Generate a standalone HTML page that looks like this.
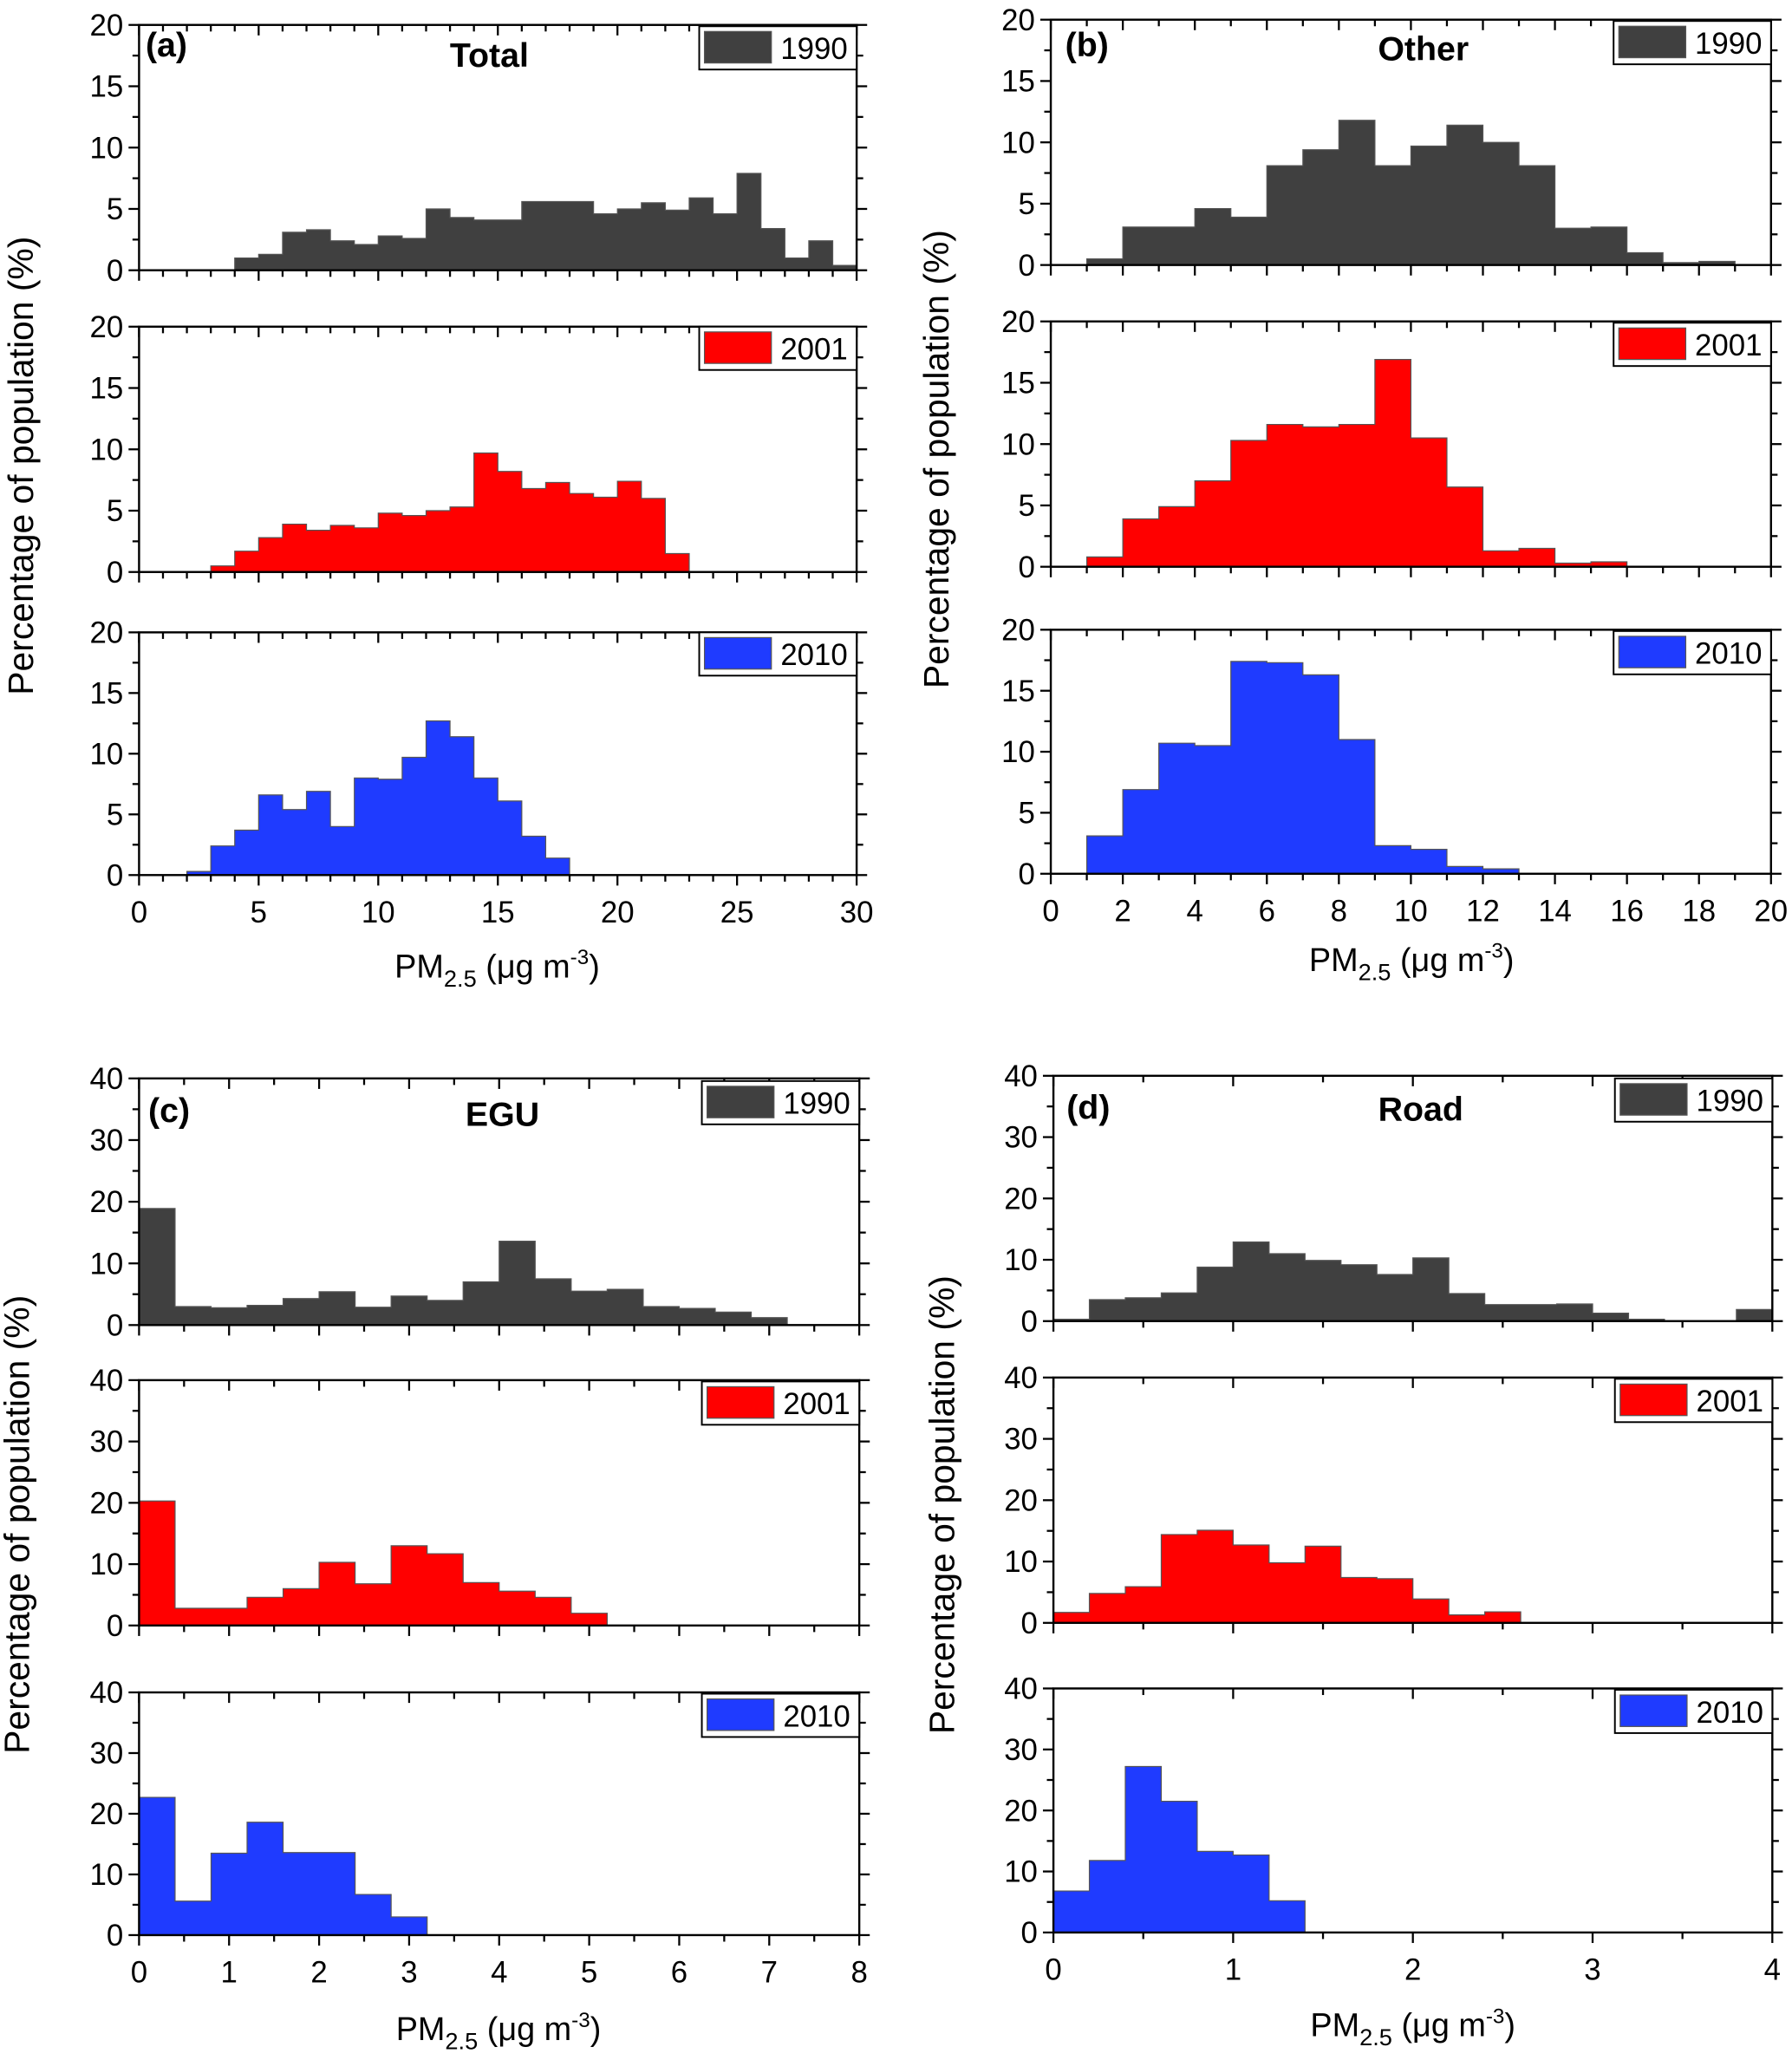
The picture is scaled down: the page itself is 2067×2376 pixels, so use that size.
<!DOCTYPE html>
<html><head><meta charset="utf-8"><style>
html,body{margin:0;padding:0;background:#fff;}
svg{display:block;font-family:"Liberation Sans",Arial,sans-serif;}
</style></head><body>
<svg id="chart" width="2067" height="2376" viewBox="0 0 1366 1570.2" preserveAspectRatio="none" xmlns="http://www.w3.org/2000/svg"></svg>
<script>
// ---- Data ----
const yearLabels = ["1990","2001","2010"];
const yearColors = ["#404040","#ff0000","#1f3bff"];
// Panel a: Total, bin width 1, range 0-30
const totalStarts = [4,3,2];
const total1990 = [1,1.3,3.1,3.3,2.4,2.1,2.8,2.6,5,4.3,4.1,4.1,5.6,5.6,5.6,4.6,5,5.5,4.9,5.9,4.6,7.9,3.4,1,2.4,0.4];
const total2001 = [0.5,1.7,2.8,3.9,3.4,3.8,3.6,4.8,4.6,5,5.3,9.7,8.2,6.8,7.3,6.4,6.1,7.4,6,1.5];
const total2010 = [0.3,2.4,3.7,6.6,5.4,6.9,4,8,7.9,9.7,12.7,11.4,8,6.1,3.2,1.4];
// Panel b: Other, bin width 1, range 0-20
const otherStarts = [1,1,1];
const other1990 = [0.5,3.1,3.1,4.6,3.9,8.1,9.4,11.8,8.1,9.7,11.4,10,8.1,3,3.1,1,0.2,0.3];
const other2001 = [0.8,3.9,4.9,7,10.3,11.6,11.4,11.6,16.9,10.5,6.5,1.3,1.5,0.3,0.4];
const other2010 = [3.1,6.9,10.7,10.5,17.4,17.3,16.3,11,2.3,2,0.6,0.4];
// Panel c: EGU, bin width 0.4, range 0-8
const eguStarts = [0,0,0];
const egu1990 = [18.9,3,2.8,3.2,4.3,5.4,2.9,4.7,4,7,13.6,7.5,5.5,5.8,3,2.7,2.1,1.2];
const egu2001 = [20.3,2.8,2.8,4.6,6,10.3,6.8,13,11.7,7,5.6,4.6,2];
const egu2010 = [22.7,5.6,13.5,18.6,13.6,13.6,6.7,3];
// Panel d: Road, bin width 0.2, range 0-4
const roadStarts = [0,0,0];
const road1990 = [0.3,3.5,3.8,4.6,8.8,12.9,11,9.9,9.2,7.6,10.3,4.5,2.7,2.7,2.8,1.3,0.3,0,0,1.9];
const road2001 = [1.7,4.8,5.9,14.4,15.1,12.7,9.8,12.5,7.4,7.2,3.9,1.3,1.8];
const road2010 = [6.8,11.8,27.2,21.5,13.3,12.7,5.2];
const xTicksA = [0,5,10,15,20,25,30];
const xTicksB = [0,2,4,6,8,10,12,14,16,18,20];
const xTicksC = [0,1,2,3,4,5,6,7,8];
const xTicksD = [0,1,2,3,4];
const yTicks20 = [0,5,10,15,20];
const yTicks40 = [0,10,20,30,40];

const NS="http://www.w3.org/2000/svg";
const svg=document.getElementById('chart');
function mk(tag,attrs,parent){const e=document.createElementNS(NS,tag);for(const k in attrs)e.setAttribute(k,attrs[k]);(parent||svg).appendChild(e);return e;}

const panels=[
 {id:'a',title:'Total',x0:106,x1:653,xmax:30,bw:1,minor:1,xt:xTicksA,yt:yTicks20,ymax:20,yminor:2.5,
  rows:[[19,206],[249,436],[482,667]],series:[total1990,total2001,total2010],starts:totalStarts,
  ylab:[18,355],xlab:[379,745],titlePos:[373,51],letterPos:[111,43],legY:[20,249,482]},
 {id:'b',title:'Other',x0:801,x1:1350,xmax:20,bw:1,minor:1,xt:xTicksB,yt:yTicks20,ymax:20,yminor:2.5,
  rows:[[15,202],[245,432],[480,666]],series:[other1990,other2001,other2010],starts:otherStarts,
  ylab:[716,350],xlab:[1076,740],titlePos:[1085,46],letterPos:[812,43],legY:[16,246,481]},
 {id:'c',title:'EGU',x0:106,x1:655,xmax:8,bw:0.4,minor:0.5,xt:xTicksC,yt:yTicks40,ymax:40,yminor:5,
  rows:[[822,1010],[1052,1239],[1290,1475]],series:[egu1990,egu2001,egu2010],starts:eguStarts,
  ylab:[15,1162],xlab:[380,1555],titlePos:[383,858],letterPos:[113,855],legY:[824,1053,1291]},
 {id:'d',title:'Road',x0:803,x1:1351,xmax:4,bw:0.2,minor:0.5,xt:xTicksD,yt:yTicks40,ymax:40,yminor:5,
  rows:[[820,1007],[1050,1237],[1287,1473]],series:[road1990,road2001,road2010],starts:roadStarts,
  ylab:[720,1147],xlab:[1077,1552],titlePos:[1083,854],letterPos:[813,853],legY:[822,1051,1288]}
];

panels.forEach(p=>{
 const g=mk('g',{});
 
 
 const xs=v=>p.x0+(p.x1-p.x0)*v/p.xmax;
 p.rows.forEach((r,ri)=>{
  const [yt,yb]=r;
  const ys=v=>yb-(yb-yt)*v/p.ymax;
  const sg=mk('g',{},g);
  
  
  const data=p.series[ri];const st=p.starts[ri];
  let d='M'+xs(st)+','+ys(0);
  data.forEach((v,i)=>{const xa=xs(st+i*p.bw),xb=xs(st+(i+1)*p.bw);d+=' L'+xa+','+ys(v)+' L'+xb+','+ys(v);});
  d+=' L'+xs(st+data.length*p.bw)+','+ys(0)+' Z';
  const path=mk('path',{d:d,fill:yearColors[ri],stroke:'#555','stroke-width':0.8},sg);
  
  
  const fr=mk('rect',{x:p.x0,y:yt,width:p.x1-p.x0,height:yb-yt,fill:'none',stroke:'#000','stroke-width':1.6},sg);
  
  
  for(let v=0;v<=p.xmax+1e-9;v+=p.minor){
   const major=p.xt.some(t=>Math.abs(t-v)<1e-6);
   const L=major?8:5;const x=xs(v);
   mk('line',{x1:x,y1:yb,x2:x,y2:yb+L,stroke:'#000','stroke-width':1.5},sg);
   mk('line',{x1:x,y1:yt,x2:x,y2:yt+L,stroke:'#000','stroke-width':1.5},sg);
  }
  for(let v=0;v<=p.ymax+1e-9;v+=p.yminor){
   const major=p.yt.some(t=>Math.abs(t-v)<1e-6);
   const L=major?8:5;const y=ys(v);
   mk('line',{x1:p.x0-L,y1:y,x2:p.x0,y2:y,stroke:'#000','stroke-width':1.5},sg);
   mk('line',{x1:p.x1,y1:y,x2:p.x1+L,y2:y,stroke:'#000','stroke-width':1.5},sg);
  }
  p.yt.forEach(t=>{
   const tx=mk('text',{x:p.x0-12,y:ys(t)+8,'text-anchor':'end','font-size':23},sg);
   tx.textContent=t;
   
   
  });
  if(ri===2){
   p.xt.forEach(t=>{
    const tx=mk('text',{x:xs(t),y:yb+36,'text-anchor':'middle','font-size':23},sg);
    tx.textContent=t;
    
    
   });
  }
  const ly=p.legY[ri];const lx=p.x1-120;
  const lg=mk('g',{},sg);
  
  
  mk('rect',{x:lx,y:ly,width:120,height:33,fill:'#fff',stroke:'#000','stroke-width':1.3},lg);
  mk('rect',{x:lx+4,y:ly+4,width:51,height:24,fill:yearColors[ri],stroke:'#555','stroke-width':0.8},lg);
  const lt=mk('text',{x:lx+62,y:ly+25,'font-size':23},lg);
  lt.textContent=yearLabels[ri];
 });
 const tt=mk('text',{x:p.titlePos[0],y:p.titlePos[1],'text-anchor':'middle','font-size':26,'font-weight':'bold'},g);
 tt.textContent=p.title;
 
 
 const lt=mk('text',{x:p.letterPos[0],y:p.letterPos[1],'font-size':26,'font-weight':'bold'},g);
 lt.textContent='('+p.id+')';
 
 
 const yl=mk('text',{x:p.ylab[0],y:p.ylab[1],'text-anchor':'middle','font-size':27,transform:'rotate(-90 '+p.ylab[0]+' '+p.ylab[1]+')','dominant-baseline':'middle'},g);
 yl.textContent='Percentage of population (%)';
 
 
 const xl=mk('text',{x:p.xlab[0],y:p.xlab[1],'text-anchor':'middle','font-size':25},g);
 xl.innerHTML='PM<tspan font-size="18" dy="7">2.5</tspan><tspan dy="-7"> (μg m</tspan><tspan font-size="16" dy="-10">-3</tspan><tspan dy="10">)</tspan>';
 
 
});
</script>
</body></html>
